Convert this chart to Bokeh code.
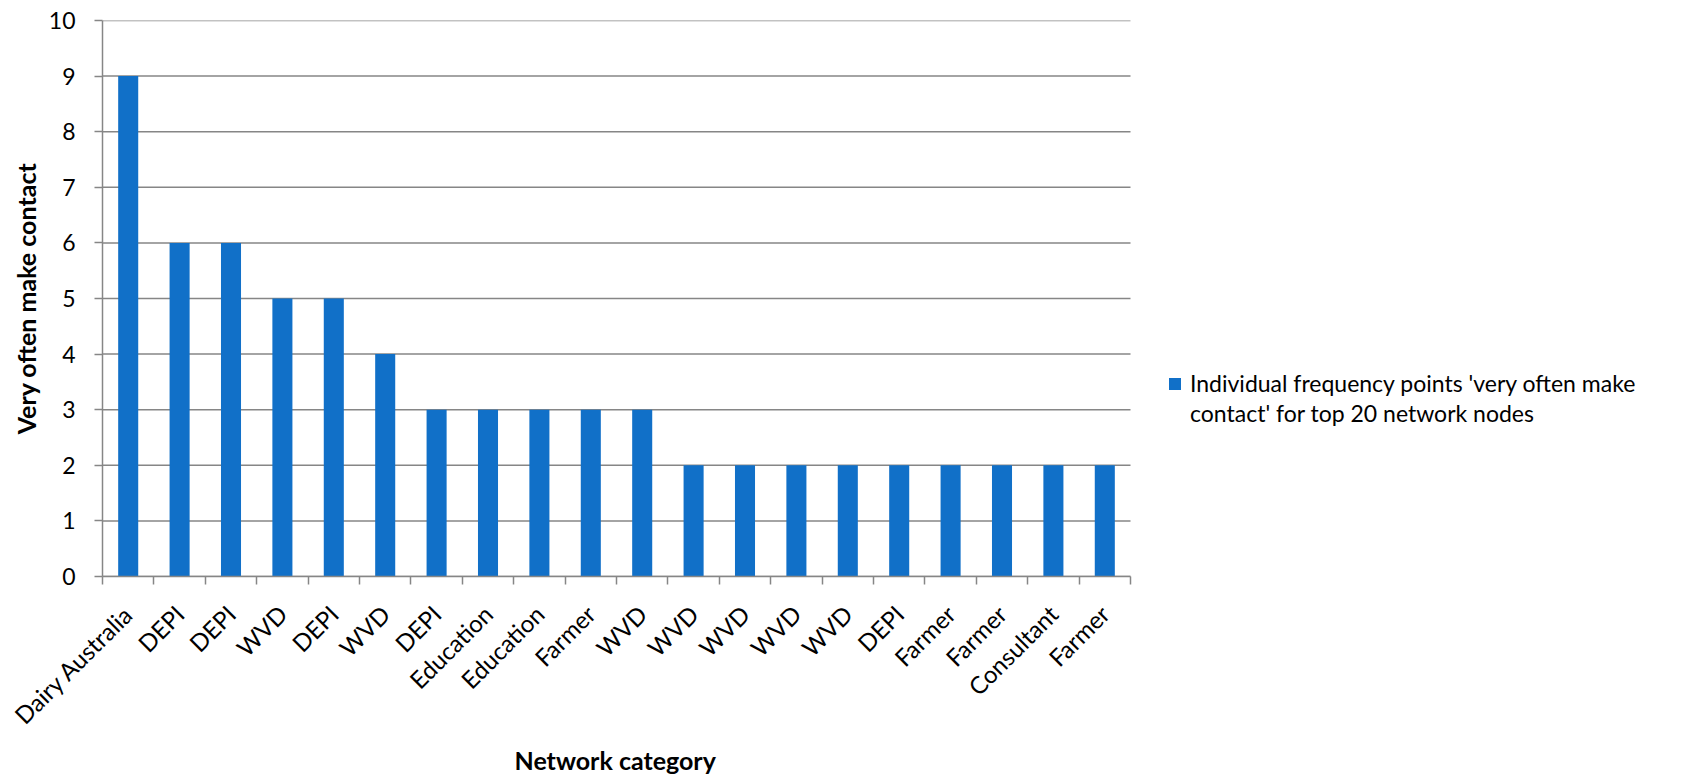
import numpy as np
from bokeh.plotting import figure
from bokeh.models import (FixedTicker, Legend, LegendItem, Range1d, ColumnDataSource,
                          Title)
from bokeh.embed import file_html
from bokeh.resources import INLINE

categories = ["Dairy Australia", "DEPI", "DEPI", "WVD", "DEPI", "WVD", "DEPI",
              "Education", "Education", "Farmer", "WVD", "WVD", "WVD", "WVD",
              "WVD", "DEPI", "Farmer", "Farmer", "Consultant", "Farmer"]
values = [9, 6, 6, 5, 5, 4, 3, 3, 3, 3, 3, 2, 2, 2, 2, 2, 2, 2, 2, 2]
y_ticks = [0, 1, 2, 3, 4, 5, 6, 7, 8, 9, 10]
series_name_lines = ["Individual frequency points 'very often make",
                     "contact' for top 20 network nodes"]
x_title = "Network category"
y_title = "Very often make contact"

FONT = "Lato"
GRID = "#868686"
BAR = "#1170C8"

# layout (pixels)
W, H = 1692, 774
LEFT, RIGHT, TOP, BOTTOM = 102, 10, 20, 192
PLOT_PX = 1028  # width of the bar area inside the frame
X_TITLE_OFFSET = 412

n = len(categories)
centers = [i + 0.5 for i in range(n)]
bounds = list(range(n + 1))
frame_px = W - LEFT - RIGHT
x_end = n * frame_px / PLOT_PX

src = ColumnDataSource(dict(x=centers, top=values, name=categories))
grid_src = ColumnDataSource(dict(x0=[0] * len(y_ticks), x1=[n] * len(y_ticks),
                                 y=y_ticks))

p = figure(width=W, height=H, x_range=Range1d(0, x_end), y_range=Range1d(0, 10),
           output_backend="svg", toolbar_location=None,
           min_border_left=LEFT, min_border_right=RIGHT, min_border_top=TOP,
           min_border_bottom=BOTTOM)
p.outline_line_color = None
p.background_fill_color = "white"
p.border_fill_color = "white"

# horizontal gridlines limited to the bar area
p.segment(x0="x0", x1="x1", y0="y", y1="y", source=grid_src,
          line_color=GRID, line_width=1.5)

r = p.vbar(x="x", top="top", width=0.39, source=src, fill_color=BAR,
           line_color=None)
# empty, transparent renderer used only for the legend's wrapped second line
r_blank = p.vbar(x=[], top=[], width=0.39, fill_alpha=0, line_alpha=0)

# X axis
xa = p.xaxis[0]
xa.bounds = (0, n)
xa.ticker = FixedTicker(ticks=centers, minor_ticks=bounds)
xa.major_label_overrides = {c: name for c, name in zip(centers, categories)}
xa.major_tick_out = 0
xa.major_tick_in = 0
xa.minor_tick_out = 8
xa.minor_tick_in = 0
xa.minor_tick_line_color = GRID
xa.minor_tick_line_width = 1.5
xa.axis_line_color = GRID
xa.axis_line_width = 1.5
xa.major_label_orientation = np.pi / 4
xa.major_label_text_font = FONT
xa.major_label_text_font_size = "24px"
xa.major_label_text_color = "black"
xa.major_label_standoff = 25

t = Title(text=x_title, align="left", offset=X_TITLE_OFFSET, standoff=0,
          text_font=FONT, text_font_style="bold", text_font_size="25px",
          text_color="black")
p.add_layout(t, "below")

# Y axis
ya = p.yaxis[0]
ya.ticker = FixedTicker(ticks=y_ticks, minor_ticks=[])
ya.major_tick_out = 8
ya.major_tick_in = 0
ya.major_tick_line_color = GRID
ya.major_tick_line_width = 1.5
ya.axis_line_color = GRID
ya.axis_line_width = 1.5
ya.major_label_text_font = FONT
ya.major_label_text_font_size = "23px"
ya.major_label_text_color = "black"
ya.major_label_standoff = 19
ya.axis_label = y_title
ya.axis_label_text_font = FONT
ya.axis_label_text_font_style = "bold"
ya.axis_label_text_font_size = "25px"
ya.axis_label_text_color = "black"
ya.axis_label_standoff = 5

p.xgrid.grid_line_color = None
p.ygrid.grid_line_color = None

legend = Legend(items=[LegendItem(label=series_name_lines[0], renderers=[r]),
                       LegendItem(label=series_name_lines[1], renderers=[r_blank])],
                location=(PLOT_PX + 37, 148), orientation="vertical")
legend.border_line_color = None
legend.background_fill_alpha = 0
legend.padding = 0
legend.margin = 0
legend.spacing = 0
legend.glyph_width = 15
legend.glyph_height = 15
legend.label_height = 30
legend.label_standoff = 8
legend.label_text_font = FONT
legend.label_text_font_size = "23px"
legend.label_text_color = "black"
p.add_layout(legend, "center")

open("out.html", "w").write(file_html(p, INLINE))
